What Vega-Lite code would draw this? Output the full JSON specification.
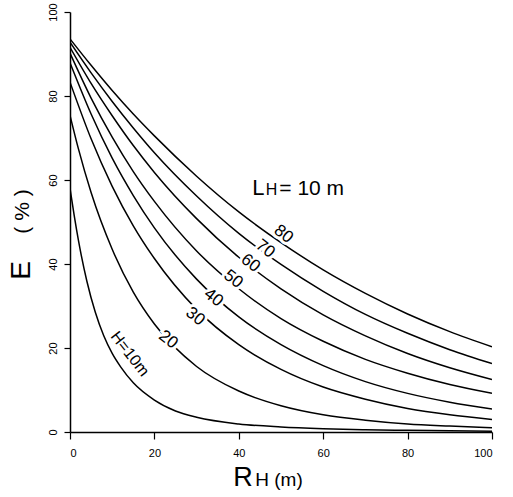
{
  "$schema": "https://vega.github.io/schema/vega-lite/v6.json",
  "width": 422,
  "height": 420,
  "autosize": "none",
  "padding": {"left": 70, "top": 12, "right": 21, "bottom": 65},
  "background": "white",
  "config": {"view": {"stroke": null}, "font": "Liberation Sans"},
  "datasets": {
    "curves": [
      {"H": 10, "R": 0, "E": 58}, {"H": 10, "R": 1, "E": 51.5}, {"H": 10, "R": 2, "E": 45.6}, {"H": 10, "R": 4, "E": 35.9}, {"H": 10, "R": 6, "E": 28.5}, {"H": 10, "R": 8, "E": 22.9}, {"H": 10, "R": 10, "E": 18.7}, {"H": 10, "R": 12, "E": 15.5}, {"H": 10, "R": 15, "E": 11.7}, {"H": 10, "R": 20, "E": 7.6}, {"H": 10, "R": 25, "E": 5.0}, {"H": 10, "R": 30, "E": 3.5}, {"H": 10, "R": 40, "E": 1.9}, {"H": 10, "R": 50, "E": 1.2}, {"H": 10, "R": 60, "E": 0.8}, {"H": 10, "R": 70, "E": 0.55}, {"H": 10, "R": 80, "E": 0.4}, {"H": 10, "R": 90, "E": 0.3}, {"H": 10, "R": 100, "E": 0.2},
      {"H": 20, "R": 0, "E": 75.4}, {"H": 20, "R": 2, "E": 67.4}, {"H": 20, "R": 5, "E": 57.0}, {"H": 20, "R": 10, "E": 43.5}, {"H": 20, "R": 15, "E": 33.3}, {"H": 20, "R": 20, "E": 25.7}, {"H": 20, "R": 30, "E": 15.6}, {"H": 20, "R": 40, "E": 9.75}, {"H": 20, "R": 50, "E": 6.25}, {"H": 20, "R": 60, "E": 4.1}, {"H": 20, "R": 70, "E": 2.8}, {"H": 20, "R": 80, "E": 1.9}, {"H": 20, "R": 90, "E": 1.4}, {"H": 20, "R": 100, "E": 1.0},
      {"H": 30, "R": 0, "E": 83.3}, {"H": 30, "R": 5, "E": 69.8}, {"H": 30, "R": 10, "E": 58.5}, {"H": 30, "R": 15, "E": 49.1}, {"H": 30, "R": 20, "E": 41.3}, {"H": 30, "R": 30, "E": 29.2}, {"H": 30, "R": 40, "E": 20.8}, {"H": 30, "R": 50, "E": 14.9}, {"H": 30, "R": 60, "E": 10.7}, {"H": 30, "R": 70, "E": 7.8}, {"H": 30, "R": 80, "E": 5.6}, {"H": 30, "R": 90, "E": 4.1}, {"H": 30, "R": 100, "E": 3.0},
      {"H": 40, "R": 0, "E": 87.9}, {"H": 40, "R": 5, "E": 75.7}, {"H": 40, "R": 10, "E": 65.2}, {"H": 40, "R": 15, "E": 56.3}, {"H": 40, "R": 20, "E": 48.6}, {"H": 40, "R": 30, "E": 36.4}, {"H": 40, "R": 40, "E": 27.4}, {"H": 40, "R": 50, "E": 20.8}, {"H": 40, "R": 60, "E": 15.8}, {"H": 40, "R": 70, "E": 12.0}, {"H": 40, "R": 80, "E": 9.2}, {"H": 40, "R": 90, "E": 7.1}, {"H": 40, "R": 100, "E": 5.5},
      {"H": 50, "R": 0, "E": 90.2}, {"H": 50, "R": 5, "E": 79.5}, {"H": 50, "R": 10, "E": 70.2}, {"H": 50, "R": 15, "E": 62.0}, {"H": 50, "R": 20, "E": 54.9}, {"H": 50, "R": 30, "E": 43.1}, {"H": 50, "R": 40, "E": 34.1}, {"H": 50, "R": 50, "E": 27.0}, {"H": 50, "R": 60, "E": 21.6}, {"H": 50, "R": 70, "E": 17.3}, {"H": 50, "R": 80, "E": 14.0}, {"H": 50, "R": 90, "E": 11.3}, {"H": 50, "R": 100, "E": 9.2},
      {"H": 60, "R": 0, "E": 91.6}, {"H": 60, "R": 5, "E": 83.0}, {"H": 60, "R": 10, "E": 75.3}, {"H": 60, "R": 15, "E": 68.2}, {"H": 60, "R": 20, "E": 61.8}, {"H": 60, "R": 30, "E": 50.8}, {"H": 60, "R": 40, "E": 41.6}, {"H": 60, "R": 50, "E": 34.1}, {"H": 60, "R": 60, "E": 27.9}, {"H": 60, "R": 70, "E": 22.9}, {"H": 60, "R": 80, "E": 18.7}, {"H": 60, "R": 90, "E": 15.3}, {"H": 60, "R": 100, "E": 12.5},
      {"H": 70, "R": 0, "E": 92.8}, {"H": 70, "R": 5, "E": 85.5}, {"H": 70, "R": 10, "E": 78.7}, {"H": 70, "R": 15, "E": 72.4}, {"H": 70, "R": 20, "E": 66.5}, {"H": 70, "R": 30, "E": 56.2}, {"H": 70, "R": 40, "E": 47.3}, {"H": 70, "R": 50, "E": 39.9}, {"H": 70, "R": 60, "E": 33.5}, {"H": 70, "R": 70, "E": 28.0}, {"H": 70, "R": 80, "E": 23.5}, {"H": 70, "R": 90, "E": 19.6}, {"H": 70, "R": 100, "E": 16.3},
      {"H": 80, "R": 0, "E": 93.6}, {"H": 80, "R": 5, "E": 87.3}, {"H": 80, "R": 10, "E": 81.3}, {"H": 80, "R": 15, "E": 75.7}, {"H": 80, "R": 20, "E": 70.5}, {"H": 80, "R": 30, "E": 60.9}, {"H": 80, "R": 40, "E": 52.4}, {"H": 80, "R": 50, "E": 45.1}, {"H": 80, "R": 60, "E": 38.6}, {"H": 80, "R": 70, "E": 33.0}, {"H": 80, "R": 80, "E": 28.1}, {"H": 80, "R": 90, "E": 23.9}, {"H": 80, "R": 100, "E": 20.3}
    ],
    "labels": [
      {"label": "80", "R": 50.6, "E": 47.1},
      {"label": "70", "R": 46.3, "E": 43.6},
      {"label": "60", "R": 42.8, "E": 40.2},
      {"label": "50", "R": 38.7, "E": 36.4},
      {"label": "40", "R": 34.0, "E": 32.0},
      {"label": "30", "R": 29.7, "E": 27.5},
      {"label": "20", "R": 23.3, "E": 22.0}
    ],
    "hlabel": [{"label": "H=10m", "R": 14.2, "E": 18.6}]
  },
  "layer": [
    {
      "data": {"name": "curves"},
      "mark": {"type": "line", "color": "black", "strokeWidth": 1.5, "interpolate": "monotone", "clip": true},
      "encoding": {
        "x": {"field": "R", "type": "quantitative", "scale": {"domain": [0, 100], "nice": false},
          "axis": {"values": [0, 20, 40, 60, 80, 100], "title": null, "grid": false, "domainColor": "black", "domainWidth": 1.5, "tickColor": "black", "tickSize": 7, "tickWidth": 1.2, "labelPadding": 8, "labelFontSize": 11, "labelColor": "black", "labelFont": "Liberation Sans"}},
        "y": {"field": "E", "type": "quantitative", "scale": {"domain": [0, 100], "nice": false},
          "axis": {"values": [0, 20, 40, 60, 80, 100], "title": null, "grid": false, "domainColor": "black", "domainWidth": 1.5, "tickColor": "black", "tickSize": 6, "tickWidth": 1.2, "labelPadding": 6, "labelAngle": 270, "labelAlign": "center", "labelBaseline": "bottom", "labelFontSize": 11, "labelColor": "black", "labelFont": "Liberation Sans"}},
        "detail": {"field": "H", "type": "nominal"}
      }
    },
    {
      "data": {"name": "labels"},
      "mark": {"type": "text", "angle": 38, "fontSize": 17, "stroke": "white", "strokeWidth": 6, "fill": "white", "align": "center", "baseline": "middle"},
      "encoding": {"x": {"field": "R", "type": "quantitative"}, "y": {"field": "E", "type": "quantitative"}, "text": {"field": "label"}}
    },
    {
      "data": {"name": "labels"},
      "mark": {"type": "text", "angle": 38, "fontSize": 17, "color": "black", "align": "center", "baseline": "middle"},
      "encoding": {"x": {"field": "R", "type": "quantitative"}, "y": {"field": "E", "type": "quantitative"}, "text": {"field": "label"}}
    },
    {
      "data": {"name": "hlabel"},
      "mark": {"type": "text", "angle": 52, "fontSize": 16, "stroke": "white", "strokeWidth": 6, "fill": "white", "align": "center", "baseline": "middle"},
      "encoding": {"x": {"field": "R", "type": "quantitative"}, "y": {"field": "E", "type": "quantitative"}, "text": {"field": "label"}}
    },
    {
      "data": {"name": "hlabel"},
      "mark": {"type": "text", "angle": 52, "fontSize": 16, "color": "black", "align": "center", "baseline": "middle"},
      "encoding": {"x": {"field": "R", "type": "quantitative"}, "y": {"field": "E", "type": "quantitative"}, "text": {"field": "label"}}
    },
    {
      "data": {"values": [{"t": "L", "R": 43.2, "E": 56.5}]},
      "mark": {"type": "text", "fontSize": 22, "color": "black", "align": "left", "baseline": "alphabetic"},
      "encoding": {"x": {"field": "R", "type": "quantitative"}, "y": {"field": "E", "type": "quantitative"}, "text": {"field": "t"}}
    },
    {
      "data": {"values": [{"t": "H", "R": 46.4, "E": 56.5}]},
      "mark": {"type": "text", "fontSize": 16, "color": "black", "align": "left", "baseline": "alphabetic"},
      "encoding": {"x": {"field": "R", "type": "quantitative"}, "y": {"field": "E", "type": "quantitative"}, "text": {"field": "t"}}
    },
    {
      "data": {"values": [{"t": "= 10 m", "R": 49.6, "E": 56.5}]},
      "mark": {"type": "text", "fontSize": 21, "color": "black", "align": "left", "baseline": "alphabetic"},
      "encoding": {"x": {"field": "R", "type": "quantitative"}, "y": {"field": "E", "type": "quantitative"}, "text": {"field": "t"}}
    },
    {
      "data": {"values": [{"t": "R", "R": 38.7, "E": -12.8}]},
      "mark": {"type": "text", "fontSize": 27, "color": "black", "align": "left", "baseline": "alphabetic"},
      "encoding": {"x": {"field": "R", "type": "quantitative"}, "y": {"field": "E", "type": "quantitative"}, "text": {"field": "t"}}
    },
    {
      "data": {"values": [{"t": "H  (m)", "R": 43.9, "E": -12.8}]},
      "mark": {"type": "text", "fontSize": 19, "color": "black", "align": "left", "baseline": "alphabetic"},
      "encoding": {"x": {"field": "R", "type": "quantitative"}, "y": {"field": "E", "type": "quantitative"}, "text": {"field": "t"}}
    },
    {
      "data": {"values": [{"t": "E", "R": -11.4, "E": 38.5}]},
      "mark": {"type": "text", "fontSize": 28, "angle": 270, "color": "black", "align": "center", "baseline": "middle"},
      "encoding": {"x": {"field": "R", "type": "quantitative"}, "y": {"field": "E", "type": "quantitative"}, "text": {"field": "t"}}
    },
    {
      "data": {"values": [{"t": "(  %  )", "R": -11.2, "E": 52.5}]},
      "mark": {"type": "text", "fontSize": 21, "angle": 270, "color": "black", "align": "center", "baseline": "middle"},
      "encoding": {"x": {"field": "R", "type": "quantitative"}, "y": {"field": "E", "type": "quantitative"}, "text": {"field": "t"}}
    }
  ]
}
